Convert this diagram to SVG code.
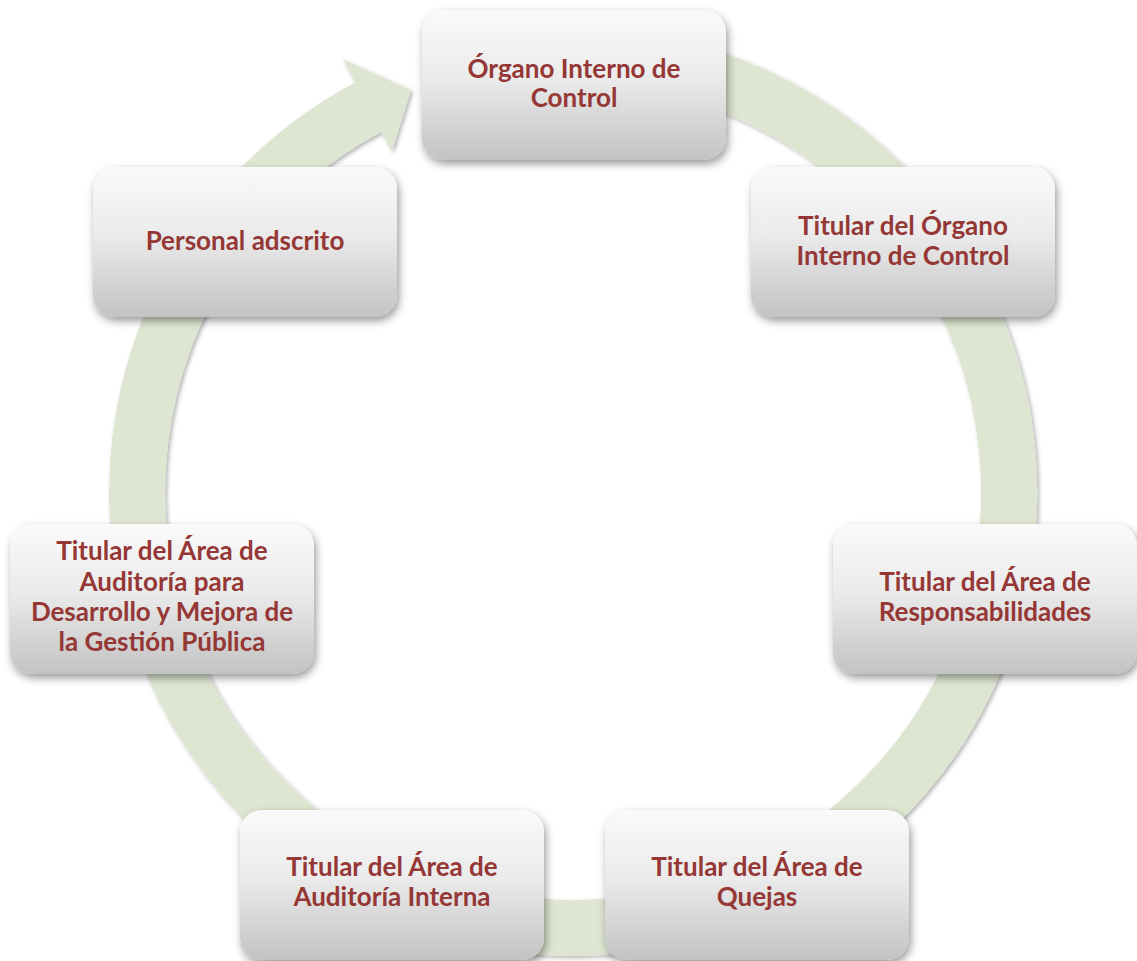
<svg xmlns="http://www.w3.org/2000/svg" width="1137" height="961" viewBox="0 0 1137 961">
  <defs>
    <linearGradient id="boxGrad" x1="0" y1="0" x2="0" y2="1">
      <stop offset="0" stop-color="#fafafa"/>
      <stop offset="0.45" stop-color="#ebebeb"/>
      <stop offset="1" stop-color="#c3c3c3"/>
    </linearGradient>
    <filter id="boxShadow" x="-10%" y="-10%" width="125%" height="130%">
      <feDropShadow dx="2" dy="4" stdDeviation="4" flood-color="#000" flood-opacity="0.4"/>
    </filter>
    <filter id="ringShadow" x="-10%" y="-10%" width="120%" height="120%">
      <feDropShadow dx="2" dy="2" stdDeviation="2" flood-color="#000" flood-opacity="0.3"/>
    </filter>
  </defs>
  <style>
    .box { fill: url(#boxGrad); filter: url(#boxShadow); }
    .lbl { font-family: "Lato", "Liberation Sans", sans-serif; font-weight: bold; font-size: 26px; fill: #953735; text-anchor: middle; }
    .ring { fill: none; stroke: #dee6d1; stroke-width: 56; }
    .head { fill: #dee6d1; }
  </style>
  <rect width="1137" height="961" fill="#ffffff"/>
  <g id="connectors" filter="url(#ringShadow)">
    <path class="ring" d="M 573 56 A 436 436 0 1 1 368.3 107.1"/>
    <polygon class="head" points="342.9,59.4 411,90 391.8,151.2"/>
  </g>
  <g id="node1">
    <rect class="box" x="422" y="10" width="304" height="150" rx="22"/>
    <text class="lbl" x="574" y="78">Órgano Interno de</text>
    <text class="lbl" x="574" y="107">Control</text>
  </g>
  <g id="node2">
    <rect class="box" x="751" y="167" width="304" height="150" rx="22"/>
    <text class="lbl" x="903" y="235">Titular del Órgano</text>
    <text class="lbl" x="903" y="265">Interno de Control</text>
  </g>
  <g id="node3">
    <rect class="box" x="833" y="524" width="304" height="150" rx="22"/>
    <text class="lbl" x="985" y="591">Titular del Área de</text>
    <text class="lbl" x="985" y="621">Responsabilidades</text>
  </g>
  <g id="node4">
    <rect class="box" x="605" y="810" width="304" height="150" rx="22"/>
    <text class="lbl" x="757" y="876">Titular del Área de</text>
    <text class="lbl" x="757" y="906">Quejas</text>
  </g>
  <g id="node5">
    <rect class="box" x="240" y="810" width="304" height="150" rx="22"/>
    <text class="lbl" x="392" y="876">Titular del Área de</text>
    <text class="lbl" x="392" y="906">Auditoría Interna</text>
  </g>
  <g id="node6">
    <rect class="box" x="10" y="524" width="304" height="150" rx="22"/>
    <text class="lbl" x="162" y="560">Titular del Área de</text>
    <text class="lbl" x="162" y="591">Auditoría para</text>
    <text class="lbl" x="162" y="621">Desarrollo y Mejora de</text>
    <text class="lbl" x="162" y="651">la Gestión Pública</text>
  </g>
  <g id="node7">
    <rect class="box" x="93" y="167" width="304" height="150" rx="22"/>
    <text class="lbl" x="245" y="250">Personal adscrito</text>
  </g>
</svg>
